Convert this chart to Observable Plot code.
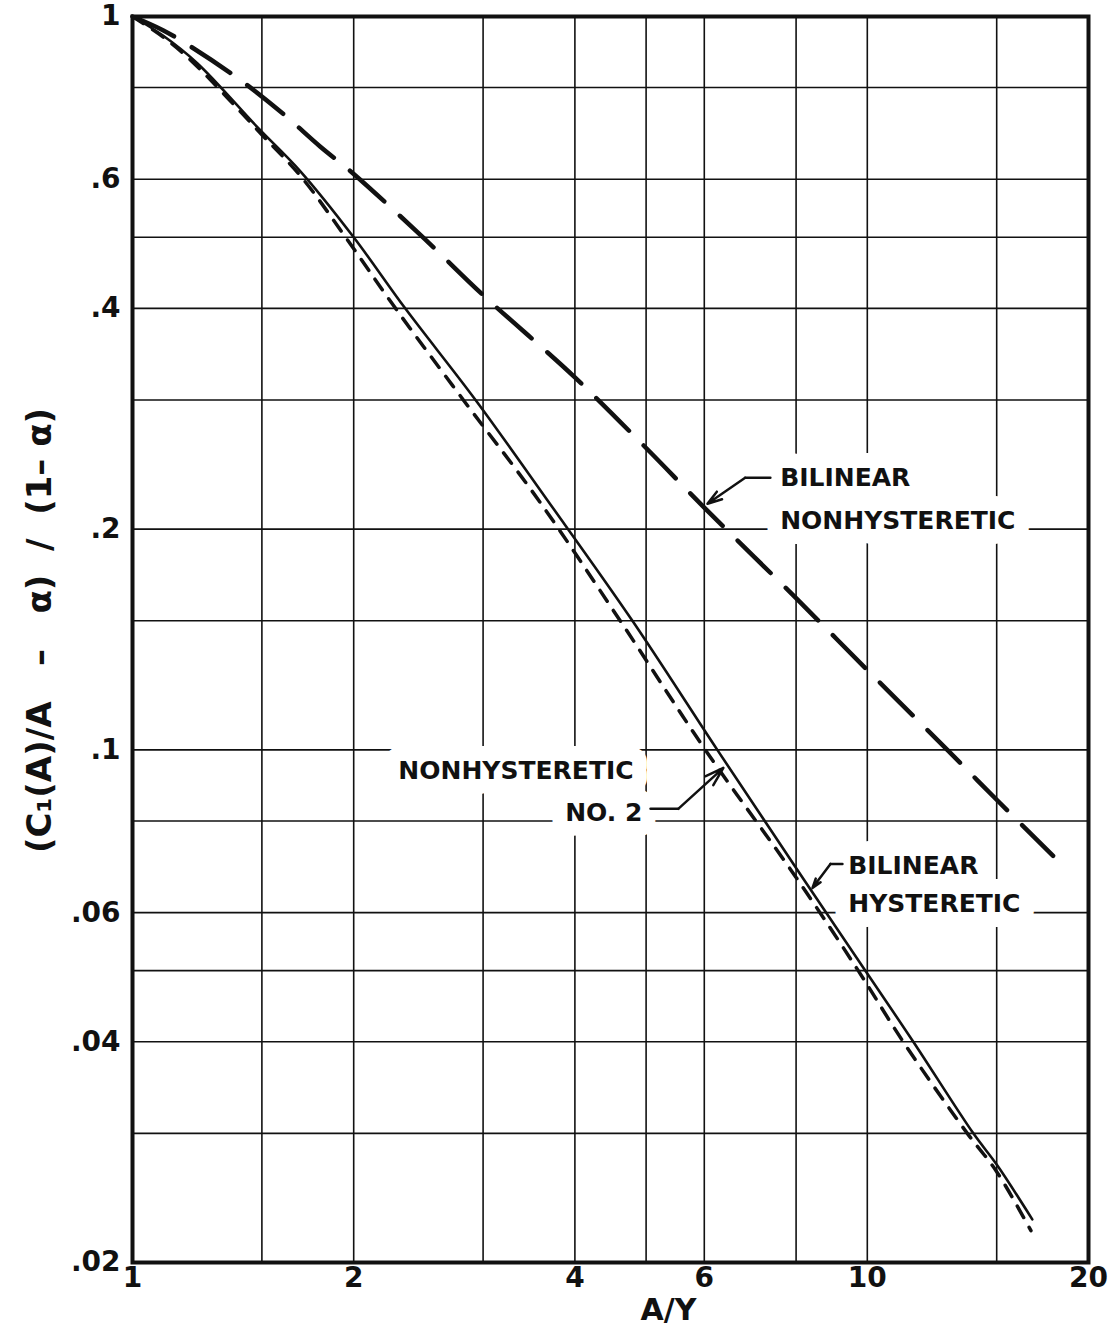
<!DOCTYPE html>
<html><head><meta charset="utf-8">
<script src="https://cdn.jsdelivr.net/npm/d3@7"></script>
<script src="https://cdn.jsdelivr.net/npm/@observablehq/plot@0.6"></script>
<style>
html,body{margin:0;padding:0;background:#fff;}
#chart svg{display:block;}
</style></head><body><div id="chart"></div>
<script>
// Grid and ticks
const xGrid = [1, 1.5, 2, 3, 4, 5, 6, 8, 10, 15, 20];
const yGrid = [0.02, 0.03, 0.04, 0.05, 0.06, 0.08, 0.1, 0.15, 0.2, 0.3, 0.4, 0.5, 0.6, 0.8, 1];
const xTicks = [1, 2, 4, 6, 10, 20];
const yTicks = [0.02, 0.04, 0.06, 0.1, 0.2, 0.4, 0.6, 1];
const yTickLabels = [".02", ".04", ".06", ".1", ".2", ".4", ".6", "1"];

// Bilinear nonhysteretic (long dashes)
const bnX = [1, 1.1, 1.2, 1.4, 1.6, 1.8, 2, 2.5, 3, 4, 5, 6, 8, 10, 12.85, 15, 17.9];
const bnY = [1, 0.958, 0.91, 0.82, 0.738, 0.665, 0.61, 0.497, 0.417, 0.322, 0.258, 0.214, 0.161, 0.1285, 0.1, 0.0855, 0.0717];

// Bilinear hysteretic (solid)
const bhX = [1, 1.1, 1.226, 1.48, 1.69, 2.0, 2.35, 2.93, 3.67, 4.79, 6.25, 8, 9.94, 11.55, 13.94, 15, 16.77];
const bhY = [1, 0.942, 0.863, 0.706, 0.616, 0.5, 0.4, 0.3, 0.219, 0.15, 0.1, 0.069, 0.05, 0.04, 0.03, 0.0272, 0.0229];

// Nonhysteretic No. 2 (short dashes)
const n2X = [1, 1.1, 1.2, 1.5, 1.7, 1.95, 2.28, 2.82, 3.57, 4.61, 6.02, 8, 9.72, 11.19, 13.68, 15, 16.7];
const n2Y = [1, 0.938, 0.872, 0.69, 0.603, 0.5, 0.4, 0.3, 0.219, 0.15, 0.1, 0.067, 0.05, 0.04, 0.03, 0.0266, 0.0221];

// Annotations
const labelText = ["BILINEAR", "NONHYSTERETIC", "NONHYSTERETIC", "NO. 2", "BILINEAR", "HYSTERETIC"];
const labelX = [7.61, 7.61, 2.30, 3.88, 9.42, 9.42];
const labelY = [0.235, 0.2053, 0.0936, 0.082, 0.0695, 0.0616];

const leaderId = ["a", "a", "b", "b", "c", "c"];
const leaderX = [7.38, 6.82, 5.07, 5.53, 9.25, 8.91];
const leaderY = [0.235, 0.235, 0.0831, 0.0831, 0.0699, 0.0699];
const arrowX1 = [6.82, 5.53, 8.91];
const arrowY1 = [0.235, 0.0831, 0.0699];
const arrowX2 = [6.06, 6.37, 8.42];
const arrowY2 = [0.2166, 0.0945, 0.0648];

const xTitle = "A/Y";
const yTitle = "(C\u2081(A)/A   \u2013   \u03b1)  /  (1\u2013 \u03b1)";

const pts = (xs, ys) => xs.map((x, i) => ({x, y: ys[i]}));
const labels = labelText.map((t, i) => ({t, x: labelX[i], y: labelY[i]}));
const leaders = leaderId.map((id, i) => ({id, x: leaderX[i], y: leaderY[i]}));
const arrows = arrowX1.map((x1, i) => ({x1, y1: arrowY1[i], x2: arrowX2[i], y2: arrowY2[i]}));
const yTickData = yTicks.map((v, i) => ({v, t: yTickLabels[i]}));

const ink = "#111";
const chart = Plot.plot({
  width: 1110, height: 1329,
  marginLeft: 132, marginRight: 22, marginTop: 16, marginBottom: 67,
  x: {type: "log", domain: [1, 20], axis: null},
  y: {type: "log", domain: [0.02, 1], axis: null},
  style: {fontFamily: "'DejaVu Sans', sans-serif", fontWeight: "bold", color: ink, background: "#fff"},
  marks: [
    Plot.ruleX(xGrid, {stroke: ink, strokeWidth: 1.6}),
    Plot.ruleY(yGrid, {stroke: ink, strokeWidth: 1.6}),
    Plot.text(labels, {x: "x", y: "y", text: "t", textAnchor: "start", fontSize: 25, fill: ink, stroke: "white", strokeWidth: 30, strokeLinejoin: "round", paintOrder: "stroke"}),
    Plot.line(leaders, {x: "x", y: "y", z: "id", stroke: ink, strokeWidth: 2.5}),
    Plot.arrow(arrows, {x1: "x1", y1: "y1", x2: "x2", y2: "y2", stroke: ink, strokeWidth: 2.5, headLength: 12, headAngle: 35}),
    Plot.line(pts(bnX, bnY), {x: "x", y: "y", stroke: ink, strokeWidth: 4.5, strokeDasharray: "46,21", curve: "catmull-rom"}),
    Plot.line(pts(n2X, n2Y), {x: "x", y: "y", stroke: ink, strokeWidth: 3.5, strokeDasharray: "13,11", curve: "catmull-rom"}),
    Plot.line(pts(bhX, bhY), {x: "x", y: "y", stroke: ink, strokeWidth: 2.6, curve: "catmull-rom"}),
    Plot.frame({stroke: ink, strokeWidth: 4}),
    Plot.axisX({ticks: xTicks, tickSize: 0, tickPadding: 5, fontSize: 28, label: null, tickFormat: d => String(d)}),
    Plot.text(yTickData, {y: "v", text: "t", frameAnchor: "left", textAnchor: "end", lineAnchor: "middle", dx: -12, fontSize: 28, fill: ink}),
    Plot.text([yTitle], {frameAnchor: "left", textAnchor: "middle", lineAnchor: "middle", dx: -92, dy: -9, rotate: -90, fontSize: 34, fill: ink}),
    Plot.text([xTitle], {frameAnchor: "bottom", textAnchor: "middle", lineAnchor: "middle", dy: 48, dx: 58, fontSize: 30, fill: ink})
  ]
});
document.getElementById("chart").append(chart);
</script>
</body></html>
